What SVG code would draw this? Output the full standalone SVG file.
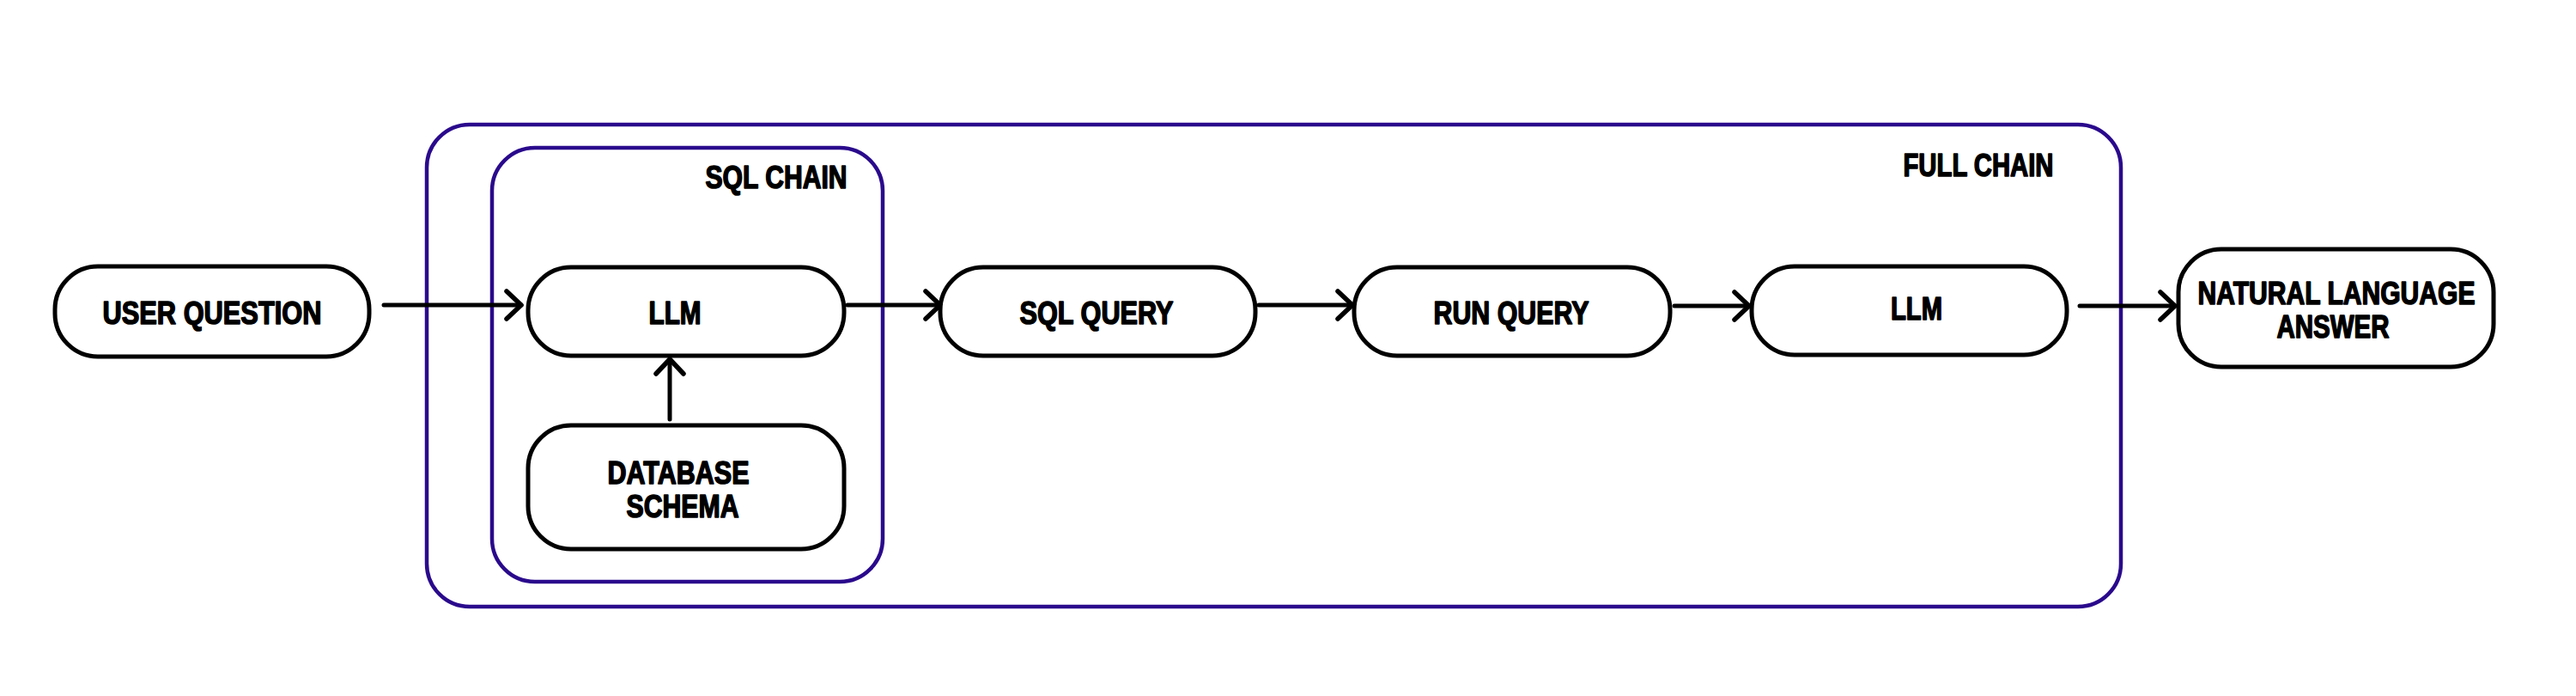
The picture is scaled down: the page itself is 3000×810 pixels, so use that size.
<svg xmlns="http://www.w3.org/2000/svg" width="3000" height="810" viewBox="0 0 3000 810">
  <defs>
    <marker id="chev" markerUnits="userSpaceOnUse" markerWidth="40" markerHeight="40" viewBox="-22 -20 26 40" refX="0" refY="0" orient="auto">
      <path d="M -17 -16 L 0 0 L -17 16" fill="none" stroke="#000" stroke-width="5.5" stroke-linecap="round" stroke-linejoin="round"/>
    </marker>
    <style>
      .bg { fill: #ffffff; }
      .container { fill: none; stroke: #2a0a8c; stroke-width: 4.5; }
      .node { fill: #ffffff; stroke: #000000; stroke-width: 5; }
      .edge { fill: none; stroke: #000000; stroke-width: 5; stroke-linecap: round; marker-end: url(#chev); }
      .lbl { font-family: "Liberation Sans", "DejaVu Sans", Arial, sans-serif; font-weight: bold; font-size: 37px; fill: #000000; stroke: #000000; stroke-width: 1.6; stroke-linejoin: round; text-anchor: middle; }
    </style>
  </defs>

  <rect class="bg" x="0" y="0" width="3000" height="810"/>

  <g id="full-chain">
    <rect class="container" x="497" y="145" width="1973" height="561" rx="50" ry="50"/>
    <text class="lbl" x="2304" y="205" textLength="175" lengthAdjust="spacingAndGlyphs">FULL CHAIN</text>
  </g>

  <g id="sql-chain">
    <rect class="container" x="573" y="172" width="455" height="505" rx="50" ry="50"/>
    <text class="lbl" x="904" y="219" textLength="165" lengthAdjust="spacingAndGlyphs">SQL CHAIN</text>
  </g>

  <g id="connectors">
    <line class="edge" x1="447" y1="355" x2="607" y2="355"/>
    <line class="edge" x1="987" y1="355" x2="1095" y2="355"/>
    <line class="edge" x1="1466" y1="355" x2="1575" y2="355"/>
    <line class="edge" x1="1950" y1="356" x2="2037" y2="356"/>
    <line class="edge" x1="2422" y1="356" x2="2533" y2="356"/>
    <line class="edge" x1="780" y1="488" x2="780" y2="418"/>
  </g>

  <g id="user-question">
    <rect class="node" x="64" y="310" width="366" height="105" rx="50" ry="50"/>
    <text class="lbl" x="247" y="377" textLength="255" lengthAdjust="spacingAndGlyphs">USER QUESTION</text>
  </g>

  <g id="llm-1">
    <rect class="node" x="615" y="311" width="368" height="103" rx="50" ry="50"/>
    <text class="lbl" x="786" y="377" textLength="61" lengthAdjust="spacingAndGlyphs">LLM</text>
  </g>

  <g id="database-schema">
    <rect class="node" x="615" y="495" width="368" height="144" rx="50" ry="50"/>
    <text class="lbl" x="790" y="563" textLength="165" lengthAdjust="spacingAndGlyphs">DATABASE</text>
    <text class="lbl" x="795" y="602" textLength="131" lengthAdjust="spacingAndGlyphs">SCHEMA</text>
  </g>

  <g id="sql-query">
    <rect class="node" x="1095" y="311" width="367" height="103" rx="50" ry="50"/>
    <text class="lbl" x="1277" y="377" textLength="179" lengthAdjust="spacingAndGlyphs">SQL QUERY</text>
  </g>

  <g id="run-query">
    <rect class="node" x="1577" y="311" width="368" height="103" rx="50" ry="50"/>
    <text class="lbl" x="1760" y="377" textLength="181" lengthAdjust="spacingAndGlyphs">RUN QUERY</text>
  </g>

  <g id="llm-2">
    <rect class="node" x="2040" y="310" width="367" height="103" rx="50" ry="50"/>
    <text class="lbl" x="2232" y="372" textLength="60" lengthAdjust="spacingAndGlyphs">LLM</text>
  </g>

  <g id="natural-language-answer">
    <rect class="node" x="2537" y="290" width="367" height="137" rx="50" ry="50"/>
    <text class="lbl" x="2721" y="354" textLength="323" lengthAdjust="spacingAndGlyphs">NATURAL LANGUAGE</text>
    <text class="lbl" x="2717" y="393" textLength="131" lengthAdjust="spacingAndGlyphs">ANSWER</text>
  </g>
</svg>
